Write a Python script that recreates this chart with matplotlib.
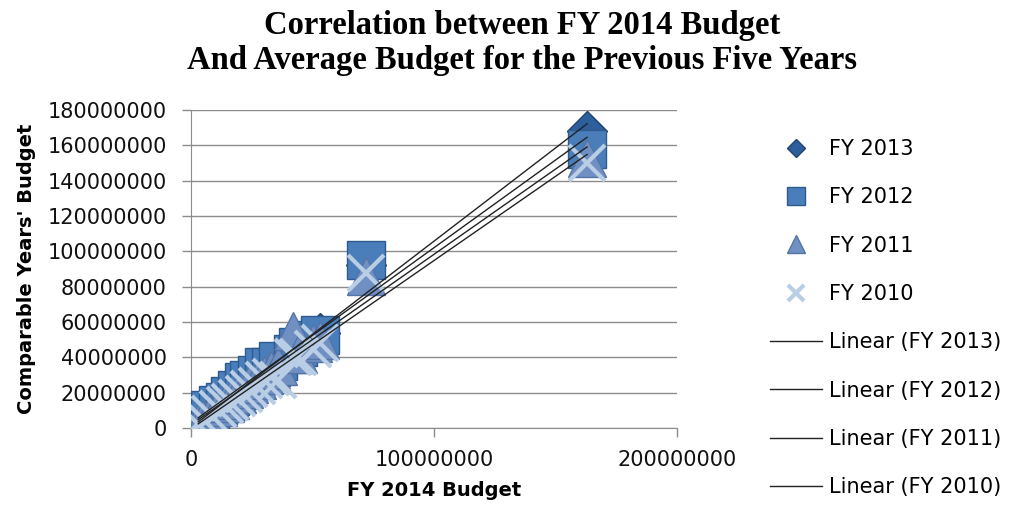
import numpy as np
import matplotlib
matplotlib.use("Agg")
import matplotlib.pyplot as plt

# FY 2014 budget per department (millions) and the comparable earlier years
fy2014 = [3, 5, 8, 11, 14, 16, 19, 22, 24, 27, 30, 33, 36, 42, 44, 50, 53, 72, 163]
fy2013 = [3.5, 5.5, 8.5, 11.5, 15, 17, 20, 23, 25, 28, 31, 35, 37, 44, 45, 51, 54, 92, 168]
fy2012 = [3.5, 6, 10, 13, 15, 18, 21.5, 26, 27, 30, 34.5, 34.5, 38, 42, 46, 50, 52.5, 95, 158]
fy2011 = [3, 5, 8, 12, 14, 16, 19, 22, 25, 27, 30, 33, 35, 55, 42, 48, 50, 86, 153]
fy2010 = [2.5, 5, 8, 11, 13, 15, 17, 19, 22, 24, 27, 29, 27, 40, 40, 45, 48, 88, 150]

series_names = ["FY 2013", "FY 2012", "FY 2011", "FY 2010"]
x_ticks = [0, 100000000, 200000000]
y_ticks = [0, 20000000, 40000000, 60000000, 80000000, 100000000,
           120000000, 140000000, 160000000, 180000000]

x = np.array(fy2014) * 1e6
ys = [np.array(v) * 1e6 for v in (fy2013, fy2012, fy2011, fy2010)]

styles = [
    dict(marker="D", ms=20, mfc="#2E5E9C", mec="#1F446F", mew=1.0),
    dict(marker="s", ms=28, mfc="#4A7EBB", mec="#2E5A8E", mew=1.0),
    dict(marker="^", ms=27, mfc="#7090C4", mec="#5574A6", mew=1.0),
    dict(marker="x", ms=26, mfc="none", mec="#B9CDE5", mew=3.0),
]

plt.rcParams["font.family"] = "DejaVu Sans"

fig = plt.figure(figsize=(10.13, 5.19), dpi=100)
ax = fig.add_axes([191 / 1013, 91 / 519, 486 / 1013, 318 / 519])

handles = []
for name, y, st in zip(series_names, ys, styles):
    h, = ax.plot(x, y, linestyle="none", label=name, zorder=3, **st)
    handles.append(h)

# linear trendlines, one per series
for name, y in zip(series_names, ys):
    k, b = np.polyfit(x, y, 1)
    xx = np.array([x.min(), x.max()])
    h, = ax.plot(xx, k * xx + b, color="#222222", lw=1.0, zorder=4,
                 label="Linear (" + name + ")")
    handles.append(h)

ax.set_xlim(0, 200000000)
ax.set_ylim(0, 180000000)
ax.set_xticks(x_ticks)
ax.set_xticklabels([str(t) for t in x_ticks])
ax.set_yticks(y_ticks)
ax.set_yticklabels([str(t) for t in y_ticks])

ax.yaxis.grid(True, color="#8C8C8C", lw=1.0)
ax.set_axisbelow(True)
for s in ("top", "right"):
    ax.spines[s].set_visible(False)
for s in ("left", "bottom"):
    ax.spines[s].set_color("#8C8C8C")
ax.tick_params(axis="both", colors="#8C8C8C", labelcolor="#111111",
               labelsize=15, length=6.5, width=1.0)
ax.tick_params(axis="y", pad=11)
ax.tick_params(axis="x", pad=9)

ax.set_xlabel("FY 2014 Budget", fontsize=14, fontweight="bold", labelpad=8)
ax.set_ylabel("Comparable Years' Budget", fontsize=14, fontweight="bold", labelpad=8)

fig.text(0.515, 1 - 10 / 519,
         "Correlation between FY 2014 Budget\nAnd Average Budget for the Previous Five Years",
         ha="center", va="top", fontsize=23.5, fontweight="bold", family="Liberation Serif",
         linespacing=1.17)

leg = fig.legend(handles=handles, loc="upper left", bbox_to_anchor=(770 / 1013, 1 - 139 / 519),
                 frameon=False, fontsize=15, markerscale=0.47, handlelength=2.5,
                 handletextpad=0.35, labelspacing=1.36, borderpad=0, borderaxespad=0)

fig.savefig("out.png", dpi=100)
